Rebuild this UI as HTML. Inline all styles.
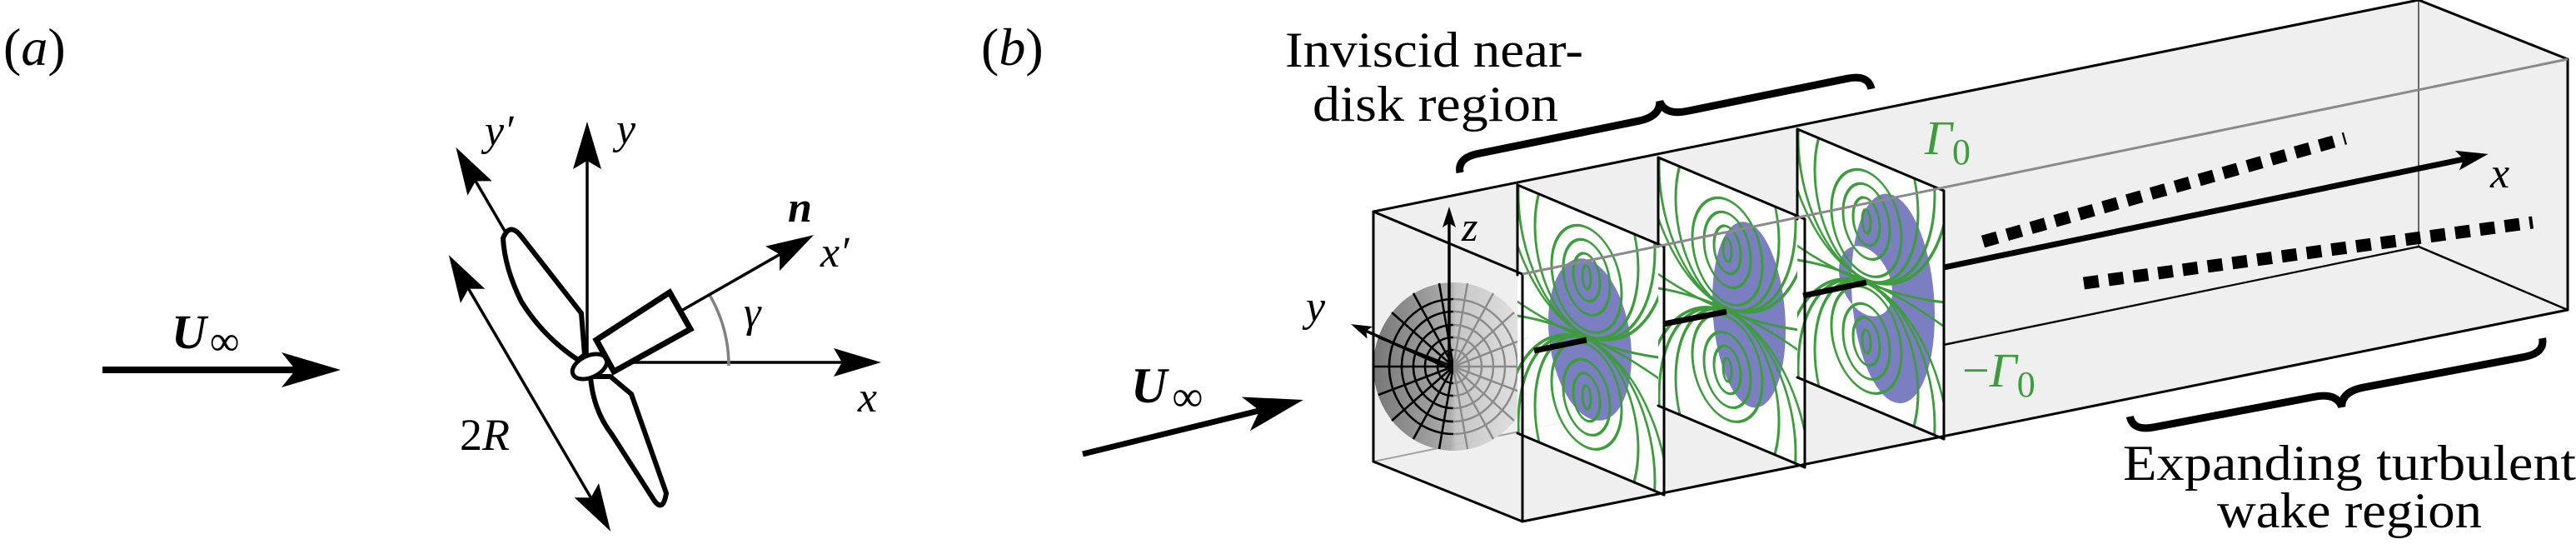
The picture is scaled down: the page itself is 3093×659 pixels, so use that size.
<!DOCTYPE html>
<html><head><meta charset="utf-8"><style>
html,body{margin:0;padding:0;background:#fff;width:3093px;height:659px;overflow:hidden;}
svg{display:block;overflow:hidden;font-family:"Liberation Serif","Times New Roman",serif;}
text{font-family:"Liberation Serif","Times New Roman",serif;}
</style></head><body>
<svg width="3093" height="659" viewBox="0 0 3093 659" xmlns="http://www.w3.org/2000/svg" font-family="Liberation Serif, serif">
<defs>
<marker id="mBig" markerUnits="userSpaceOnUse" markerWidth="90" markerHeight="60" viewBox="-45 -30 90 60" refX="0" refY="0" orient="auto-start-reverse"><path d="M40,0 L-31,-21 L-14,0 L-31,21Z" fill="#000"/></marker>
<marker id="mMed" markerUnits="userSpaceOnUse" markerWidth="80" markerHeight="50" viewBox="-40 -25 80 50" refX="0" refY="0" orient="auto-start-reverse"><path d="M30,0 L-27,-17 L-17,0 L-27,17Z" fill="#000"/></marker>
<marker id="mSmall" markerUnits="userSpaceOnUse" markerWidth="40" markerHeight="24" viewBox="-20 -12 40 24" refX="0" refY="0" orient="auto"><path d="M12,0 L-13,-8 L-8,0 L-13,8Z" fill="#000"/></marker>
<marker id="mX" markerUnits="userSpaceOnUse" markerWidth="50" markerHeight="30" viewBox="-25 -15 50 30" refX="0" refY="0" orient="auto"><path d="M20,0 L-18,-12 L-10,0 L-18,12Z" fill="#000"/></marker>
<clipPath id="pc"><rect x="0" y="0" width="176" height="298"/></clipPath>
<clipPath id="dl"><rect x="1600" y="300" width="145" height="300"/></clipPath>
<clipPath id="dr"><rect x="1745" y="300" width="145" height="300"/></clipPath>
<linearGradient id="dg" x1="0" x2="1" y1="0" y2="0">
<stop offset="0" stop-color="#707070"/><stop offset="0.48" stop-color="#a8a8a8"/><stop offset="0.52" stop-color="#c4c4c4"/><stop offset="1" stop-color="#e6e6e6"/>
</linearGradient>
<g id="greens" fill="none" stroke="#3d9d3d" stroke-width="3">
<ellipse cx="83" cy="76" rx="5" ry="14"/><ellipse cx="83" cy="76" rx="16" ry="28"/><ellipse cx="83" cy="76" rx="28" ry="44"/><ellipse cx="83" cy="78" rx="42" ry="62"/>
<ellipse cx="83" cy="220" rx="5" ry="14"/><ellipse cx="83" cy="220" rx="16" ry="28"/><ellipse cx="83" cy="220" rx="28" ry="44"/><ellipse cx="83" cy="218" rx="42" ry="62"/>
<ellipse cx="83" cy="40" rx="62" ry="106"/><ellipse cx="83" cy="256" rx="62" ry="106"/>
<ellipse cx="83" cy="10" rx="82" ry="136"/><ellipse cx="83" cy="286" rx="82" ry="136"/>
<ellipse cx="83" cy="-20" rx="100" ry="166"/><ellipse cx="83" cy="316" rx="100" ry="166"/>
<path d="M0,140 Q83,162 176,134"/><path d="M0,157 Q83,135 176,163"/>
</g>
</defs>

<text x="4" y="78" font-size="64" font-family="Liberation Serif, serif">(<tspan font-style="italic">a</tspan>)</text>

<line x1="123" y1="444" x2="369" y2="444" stroke="#000" stroke-width="8" marker-end="url(#mBig)"/>
<text x="206" y="418" font-size="58" font-family="Liberation Serif, serif"><tspan font-weight="bold" font-style="italic">U</tspan><tspan font-size="50" dx="4" dy="8">∞</tspan></text>

<line x1="700" y1="438" x2="562.5" y2="202.7" stroke="#000" stroke-width="3.5" marker-end="url(#mMed)"/>
<line x1="705" y1="438" x2="705" y2="176" stroke="#000" stroke-width="3.5" marker-end="url(#mMed)"/>
<line x1="740" y1="435" x2="1028" y2="435" stroke="#000" stroke-width="3.5" marker-end="url(#mMed)"/>
<path d="M875,439 A170,170 0 0 0 852,354" fill="none" stroke="#808080" stroke-width="3.5"/>

<path d="M702,426 L698,376 L626,284 Q612,266 604,286 Q606,322 626,362 Q652,404 694,432 Z" fill="#fff" stroke="#000" stroke-width="6" stroke-linejoin="round"/>
<path d="M709,452 Q712,492 735,522 L785,600 Q796,616 800,592 L758,473 L733,452 Z" fill="#fff" stroke="#000" stroke-width="6" stroke-linejoin="round"/>
<ellipse cx="708" cy="440" rx="22" ry="13" transform="rotate(-25 708 440)" fill="#fff" stroke="#000" stroke-width="5"/>
<polygon points="804,351 829,395 737,446 716,408" fill="#fff" stroke="#000" stroke-width="7"/>
<line x1="818" y1="373" x2="951" y2="297" stroke="#000" stroke-width="3.5" marker-end="url(#mMed)"/>

<line x1="554" y1="332" x2="718" y2="612" stroke="#000" stroke-width="3.5" marker-start="url(#mMed)" marker-end="url(#mMed)"/>

<g font-family="Liberation Serif, serif">
<text x="582" y="174" font-size="52" font-style="italic">y′</text>
<text x="740" y="172" font-size="52" font-style="italic">y</text>
<text x="946" y="266" font-size="52" font-style="italic" font-weight="bold">n</text>
<text x="985" y="320" font-size="52" font-style="italic">x′</text>
<text x="893" y="392" font-size="52" font-style="italic">γ</text>
<text x="1030" y="494" font-size="52" font-style="italic">x</text>
<text x="552" y="540" font-size="54">2<tspan font-style="italic">R</tspan></text>
</g>

<text x="1178" y="78" font-size="64" font-family="Liberation Serif, serif">(<tspan font-style="italic">b</tspan>)</text>

<line x1="1300" y1="545" x2="1526" y2="489.5" stroke="#000" stroke-width="7" marker-end="url(#mBig)"/>
<text x="1358" y="483" font-size="60" font-family="Liberation Serif, serif"><tspan font-weight="bold" font-style="italic">U</tspan><tspan font-size="52" dx="6" dy="10">∞</tspan></text>

<polygon points="1649,254 2904,0 3083,71 3083,372 1828,626 1649,554" fill="#efefef"/>
<line x1="1649" y1="554" x2="2904" y2="296" stroke="#a0a0a0" stroke-width="2"/>
<line x1="2904" y1="0" x2="2904" y2="296" stroke="#666" stroke-width="2"/>

<ellipse cx="1745" cy="440" rx="96" ry="101" fill="url(#dg)" opacity="0.95"/>
<g clip-path="url(#dl)" fill="none" stroke="#000" stroke-width="2.6">
<ellipse cx="1745" cy="440" rx="19" ry="20"/><ellipse cx="1745" cy="440" rx="34" ry="35"/><ellipse cx="1745" cy="440" rx="48" ry="50"/><ellipse cx="1745" cy="440" rx="62" ry="66"/><ellipse cx="1745" cy="440" rx="77" ry="81"/>
<path d="M1745,440 L1841,440 M1745,440 L1835,474 M1745,440 L1818,505 M1745,440 L1793,527 M1745,440 L1762,539 M1745,440 L1728,539 M1745,440 L1697,527 M1745,440 L1671,505 M1745,440 L1655,474 M1745,440 L1649,440 M1745,440 L1655,405 M1745,440 L1671,375 M1745,440 L1697,352 M1745,440 L1728,340 M1745,440 L1762,340 M1745,440 L1793,352 M1745,440 L1818,375 M1745,440 L1835,405"/>
</g>
<g clip-path="url(#dr)" fill="none" stroke="#8a8a8a" stroke-width="2.4">
<ellipse cx="1745" cy="440" rx="19" ry="20"/><ellipse cx="1745" cy="440" rx="34" ry="35"/><ellipse cx="1745" cy="440" rx="48" ry="50"/><ellipse cx="1745" cy="440" rx="62" ry="66"/><ellipse cx="1745" cy="440" rx="77" ry="81"/>
<path d="M1745,440 L1841,440 M1745,440 L1835,474 M1745,440 L1818,505 M1745,440 L1793,527 M1745,440 L1762,539 M1745,440 L1728,539 M1745,440 L1697,527 M1745,440 L1671,505 M1745,440 L1655,474 M1745,440 L1649,440 M1745,440 L1655,405 M1745,440 L1671,375 M1745,440 L1697,352 M1745,440 L1728,340 M1745,440 L1762,340 M1745,440 L1793,352 M1745,440 L1818,375 M1745,440 L1835,405"/>
</g>

<g transform="matrix(1,0.42,0,1,1822,222)">
<rect x="0" y="0" width="176" height="298" fill="#fff" opacity="0.9"/>
<g clip-path="url(#pc)">
<ellipse cx="87" cy="149" rx="50" ry="95" fill="#7b7fc2"/>
<use href="#greens"/>
</g>
</g>
<g transform="matrix(1,0.42,0,1,1991,189)">
<rect x="0" y="0" width="176" height="298" fill="#fff"/>
<g clip-path="url(#pc)">
<ellipse cx="109" cy="143" rx="44" ry="110" fill="#7b7fc2"/>
<use href="#greens"/>
</g>
</g>
<g transform="matrix(1,0.42,0,1,2158,155)">
<rect x="0" y="0" width="176" height="298" fill="#fff"/>
<g clip-path="url(#pc)">
<path d="M65,155 A50,124 0 1 0 165,155 A50,124 0 1 0 65,155 Z M50,148 A32,40 0 1 1 114,148 A32,40 0 1 1 50,148 Z" fill="#7b7fc2" fill-rule="evenodd"/>
<use href="#greens"/>
</g>
</g>

<g stroke="#000" stroke-width="7" fill="none">
<line x1="1842" y1="421" x2="1905" y2="408"/>
<line x1="1997" y1="389" x2="2073" y2="374"/>
<line x1="2165" y1="355" x2="2241" y2="339"/>
</g>

<g stroke="#000" stroke-width="3" fill="none" stroke-linecap="round">
<line x1="1649" y1="254" x2="2904" y2="0"/>
<line x1="1649" y1="254" x2="1649" y2="554"/>
<line x1="1649" y1="254" x2="1828" y2="329"/>
<line x1="1649" y1="554" x2="1828" y2="626"/>
<line x1="1828" y1="329" x2="1828" y2="626"/>
<line x1="1822" y1="222" x2="1998" y2="296"/><line x1="1998" y1="296" x2="1998" y2="594"/><line x1="1822" y1="520" x2="1998" y2="594"/><line x1="1822" y1="222" x2="1822" y2="330"/>
<line x1="1991" y1="189" x2="2167" y2="263"/><line x1="2167" y1="263" x2="2167" y2="561"/><line x1="1991" y1="487" x2="2167" y2="561"/><line x1="1991" y1="189" x2="1991" y2="296"/>
<line x1="2158" y1="155" x2="2334" y2="229"/><line x1="2334" y1="229" x2="2334" y2="527"/><line x1="2158" y1="453" x2="2334" y2="527"/><line x1="2158" y1="155" x2="2158" y2="263"/>
<line x1="1828" y1="626" x2="3083" y2="372"/>
<line x1="2904" y1="0" x2="3083" y2="71"/>
<line x1="3083" y1="71" x2="3083" y2="372"/>
<line x1="2904" y1="296" x2="3083" y2="372" stroke-width="2.5"/>
<line x1="2334" y1="414" x2="2904" y2="296" stroke-width="2.2"/>
</g>
<line x1="1828" y1="329" x2="3083" y2="71" stroke="#8a8a8a" stroke-width="3"/>

<line x1="1740" y1="442" x2="1740" y2="260" stroke="#000" stroke-width="3.5" marker-end="url(#mSmall)"/>
<line x1="1740" y1="442" x2="1633" y2="394" stroke="#000" stroke-width="3.5" marker-end="url(#mSmall)"/>
<text x="1755" y="289" font-size="50" font-style="italic" font-family="Liberation Serif, serif">z</text>
<text x="1568" y="385" font-size="52" font-style="italic" font-family="Liberation Serif, serif">y</text>

<line x1="2334" y1="321" x2="2968" y2="189" stroke="#000" stroke-width="7" marker-end="url(#mX)"/>
<text x="2990" y="225" font-size="52" font-style="italic" font-family="Liberation Serif, serif">x</text>

<line x1="2381" y1="290" x2="2816" y2="166" stroke="#000" stroke-width="15" stroke-dasharray="18 12"/>
<line x1="2502" y1="340" x2="3041" y2="267" stroke="#000" stroke-width="15" stroke-dasharray="18 12"/>

<text x="2311" y="185" font-size="58" fill="#3d9d3d" font-family="Liberation Serif, serif"><tspan font-style="italic">Γ</tspan><tspan font-size="44" dy="12">0</tspan></text>
<text x="2356" y="464" font-size="58" fill="#3d9d3d" font-family="Liberation Serif, serif">−<tspan font-style="italic">Γ</tspan><tspan font-size="44" dy="12">0</tspan></text>

<g transform="translate(2000,157) rotate(-11.5)">
<path d="M-252,0 Q-252,-18 -226,-18 L-30,-18 Q-3,-18 0,-36 Q3,-18 30,-18 L226,-18 Q252,-18 252,0" fill="none" stroke="#000" stroke-width="9"/>
</g>
<g transform="translate(2805,453) rotate(-10.75)">
<path d="M-252,0 Q-252,18 -226,18 L-30,18 Q-3,18 0,36 Q3,18 30,18 L226,18 Q252,18 252,0" fill="none" stroke="#000" stroke-width="9"/>
</g>

<g font-family="Liberation Serif, serif" font-size="60">
<text x="1543" y="80" textLength="358" lengthAdjust="spacingAndGlyphs">Inviscid near-</text>
<text x="1576" y="145" textLength="295" lengthAdjust="spacingAndGlyphs">disk region</text>
<text x="2549" y="576" textLength="544" lengthAdjust="spacingAndGlyphs">Expanding turbulent</text>
<text x="2662" y="633" textLength="318" lengthAdjust="spacingAndGlyphs">wake region</text>
</g>
</svg>
</body></html>
